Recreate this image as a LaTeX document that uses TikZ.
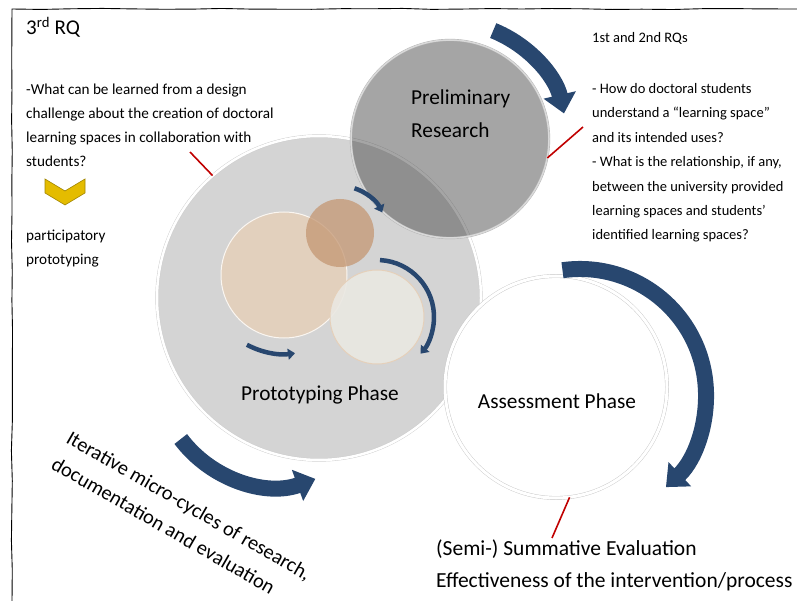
\documentclass[tikz,border=0pt]{standalone}
\usepackage{fontspec}
\setmainfont{Carlito}
\usetikzlibrary{arrows.meta,positioning,decorations.pathmorphing}

\definecolor{navy}{HTML}{28476F}
\definecolor{rqred}{HTML}{C00000}
\definecolor{plate}{HTML}{D4D4D4}
\definecolor{sand}{HTML}{E5D0BA}
\definecolor{clay}{HTML}{C49773}
\definecolor{ivory}{HTML}{EAE8E2}
\definecolor{gold}{HTML}{E4BC00}

\begin{document}
\begin{tikzpicture}[x=1pt,y=-1pt,
    bigarrow/.style={navy,line width=16pt,-{Triangle[width=32pt,length=19pt]}},
    smallarrow/.style={navy,line width=4.5pt,-{Triangle[width=11pt,length=7pt]}},
    link/.style={rqred,line width=1.6pt},
    rq/.style={anchor=base west,inner sep=0pt,align=left,font=\fontsize{15.2}{24}\selectfont},
    phasetxt/.style={inner sep=0pt,font=\fontsize{21.3}{33}\selectfont},
    phase/.style={circle,inner sep=0pt}]
  \useasboundingbox (0,0) rectangle (797,601);
  % frame
  \draw[line width=0.9pt,decorate,decoration={random steps,segment length=30pt,amplitude=0.6pt}]
    (12,601) -- (12,9) -- (797,9);

  % phases
  \node[phase,minimum size=324pt,fill=plate,draw=gray!40,double=white,double distance=2.5pt] (proto) at (319,298) {};
  \node[phase,minimum size=126pt,fill=sand,fill opacity=.85,draw=white!80!sand,line width=1pt] (ideas) at (284,275) {};
  \node[phase,minimum size=68pt,fill=clay,fill opacity=.75] (build) at (340,233) {};
  \node[phase,minimum size=94pt,fill=ivory,fill opacity=.9,draw=sand,line width=1pt] (test) at (377,317) {};
  \node[phase,minimum size=198pt,fill=black!70,fill opacity=.5,draw=gray!60,double=gray!30,double distance=1.5pt] (prelim) at (450,139) {};
  \node[phase,minimum size=222pt,fill=white,draw=gray!45,double=white,double distance=3pt] (assess) at (556,387) {};

  \node[phasetxt,align=left,anchor=base west] (prelimlbl) at (411,138) {Preliminary\\Research};
  \node[phasetxt,anchor=base] (protolbl) at (320,400) {Prototyping Phase};
  \node[phasetxt,anchor=base] (assesslbl) at (557,408) {Assessment Phase};

  % arrows
  \draw[bigarrow] (449,140) ++(-68:118) arc[start angle=-68,end angle=-13,radius=118];
  \draw[bigarrow] (580,395) ++(-98:126) arc[start angle=-98,end angle=47,radius=126];
  \draw[bigarrow] (275,368) ++(143:118) arc[start angle=143,end angle=70,radius=118];
  \draw[smallarrow] (340,233) ++(-72:47) arc[start angle=-72,end angle=-26,radius=47];
  \draw[smallarrow] (377,317) ++(-87:57) arc[start angle=-87,end angle=40,radius=57];
  \draw[smallarrow] (284,275) ++(118:79) arc[start angle=118,end angle=82,radius=79];

  % questions
  \node[rq,font=\fontsize{21}{22}\selectfont] (rqthree) at (26,35) {3\textsuperscript{rd} RQ};
  \node[rq] (rqthreetxt) at (26,167) {-What can be learned from a design\\challenge about the creation of doctoral\\learning spaces in collaboration with\\students?};
  \filldraw[fill=gold,draw=gold!70!black,line width=0.6pt] (45,179) -- (65,191) -- (85,179) -- (85,193) -- (65,205) -- (45,193) -- cycle;
  \node[rq] (method) at (26,265) {participatory\\prototyping};
  \node[rq,font=\fontsize{14.5}{24.4}\selectfont] (rqone) at (592,43) {1st and 2nd RQs};
  \node[rq,font=\fontsize{14.5}{24.4}\selectfont] (rqonetxt) at (592,240) {- How do doctoral students\\understand a “learning space”\\and its intended uses?\\- What is the relationship, if any,\\between the university provided\\learning spaces and students’\\identified learning spaces?};
  \node[rq,font=\fontsize{21.5}{32}\selectfont] (evallbl) at (436,587) {(Semi-) Summative Evaluation\\Effectiveness of the intervention/process};
  \node[rq,font=\fontsize{20.4}{30}\selectfont,rotate=-30] (cyclelbl) at (50,468) {Iterative micro-cycles of research,\\documentation and evaluation};

  % links
  \coordinate (rqthreeend) at (190,152);
  \coordinate (rqoneend) at (583,127);
  \coordinate (evalend) at (552,538);
  \draw[link] (proto.131) -- (rqthreeend);
  \draw[link] (prelim.-11) -- (rqoneend);
  \draw[link] (assess.-83) -- (evalend);
\end{tikzpicture}
\end{document}
